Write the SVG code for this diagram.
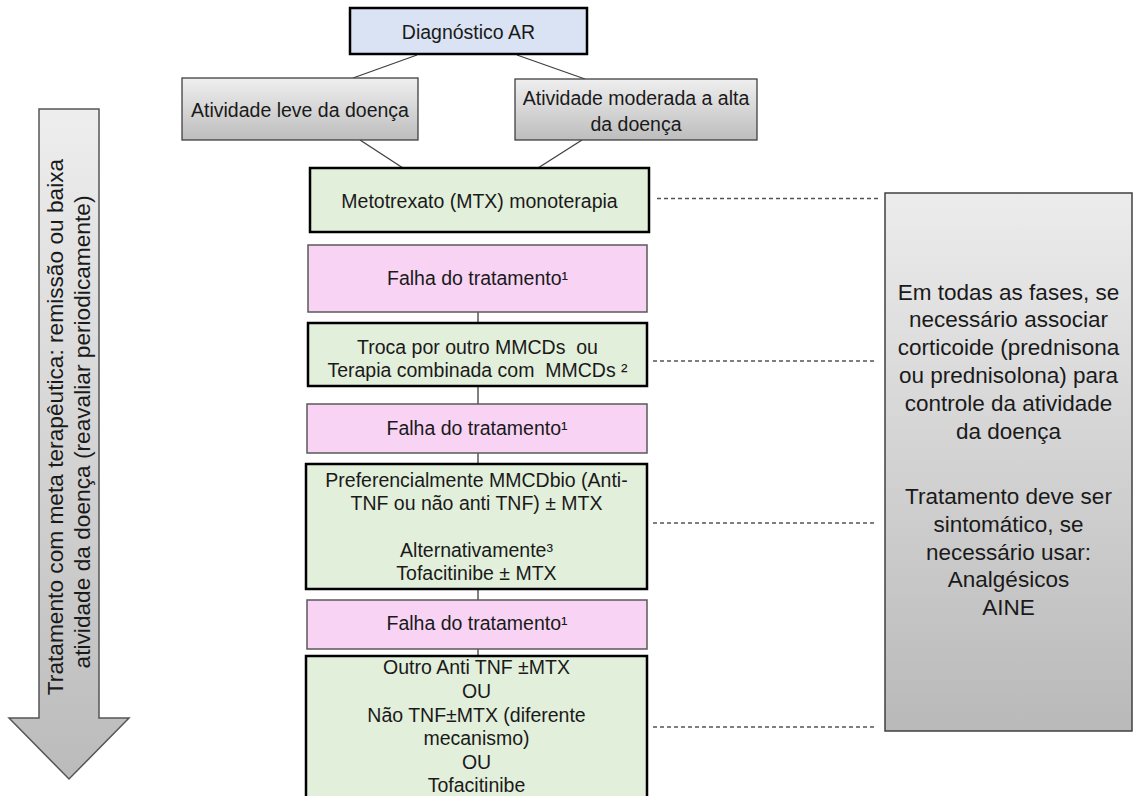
<svg xmlns="http://www.w3.org/2000/svg" width="1133" height="796" viewBox="0 0 1133 796">
<defs>
<linearGradient id="gGray" x1="0" y1="0" x2="0" y2="1"><stop offset="0" stop-color="#efefef"/><stop offset="1" stop-color="#bdbdbd"/></linearGradient>
<linearGradient id="gBig" x1="0" y1="0" x2="0" y2="1"><stop offset="0" stop-color="#ececec"/><stop offset="1" stop-color="#b9b9b9"/></linearGradient>
<linearGradient id="gArrow" gradientUnits="userSpaceOnUse" x1="0" y1="109" x2="0" y2="779"><stop offset="0" stop-color="#eeeeee"/><stop offset="1" stop-color="#bbbbbb"/></linearGradient>
<style>
text{font-family:"Liberation Sans",Arial,sans-serif;fill:#1a1a1a;text-anchor:middle}
.f{font-size:19.5px}
.b{font-size:22.5px}
.a{font-size:22.7px}
.pre{white-space:pre}
.green{fill:#e2efda;stroke:#000;stroke-width:2.5}
.pink{fill:#f8d3f4;stroke:#595959;stroke-width:1.5}
.blue{fill:#dae3f3;stroke:#000;stroke-width:2.5}
.gray{fill:url(#gGray);stroke:#404040;stroke-width:1.3}
.ln{stroke:#404040;stroke-width:1.3;fill:none}
.vl{stroke:#808080;stroke-width:2;fill:none}
.dash{stroke:#555;stroke-width:1.3;stroke-dasharray:4 3;fill:none}
</style>
</defs>
<rect width="1133" height="796" fill="#fff"/>
<g id="connectors">
<line class="ln" x1="417" y1="55" x2="353" y2="78"/>
<line class="ln" x1="517" y1="55" x2="585" y2="79"/>
<line class="ln" x1="360" y1="140" x2="403" y2="168"/>
<line class="ln" x1="582" y1="140" x2="538" y2="168"/>
<line class="vl" x1="478" y1="312" x2="478" y2="323"/>
<line class="vl" x1="478" y1="386" x2="478" y2="404"/>
<line class="vl" x1="478" y1="453" x2="478" y2="464"/>
<line class="vl" x1="478" y1="589" x2="478" y2="600"/>
<line class="vl" x1="478" y1="649" x2="478" y2="656"/>
<line class="dash" x1="657" y1="198.5" x2="879" y2="198.5"/>
<line class="dash" x1="653" y1="361" x2="876" y2="361"/>
<line class="dash" x1="653" y1="523" x2="876" y2="523"/>
<line class="dash" x1="653" y1="727" x2="876" y2="727"/>
</g>
<g id="arrow">
<path d="M39,109 H99 V718 H129 L69,779 L9,718 H39 Z" fill="url(#gArrow)" stroke="#555" stroke-width="1.5"/>
<text class="a" transform="translate(63,427) rotate(-90)">Tratamento com meta terapêutica: remissão ou baixa</text>
<text class="a" transform="translate(90,432) rotate(-90)">atividade da doença (reavaliar periodicamente)</text>
</g>
<g id="diagnostico">
<rect class="blue" x="350" y="8" width="237" height="46"/>
<text class="f" x="468.5" y="38.5">Diagnóstico AR</text>
</g>
<g id="leve">
<rect class="gray" x="182" y="78" width="236" height="62"/>
<text class="f" x="300" y="116.5">Atividade leve da doença</text>
</g>
<g id="moderada">
<rect class="gray" x="515" y="79" width="242" height="61"/>
<text class="f" x="636" y="105">Atividade moderada a alta</text>
<text class="f" x="636" y="131">da doença</text>
</g>
<g id="mtx">
<rect class="green" x="310" y="168" width="339" height="64"/>
<text class="f" x="479.5" y="207.5">Metotrexato (MTX) monoterapia</text>
</g>
<g id="falha1">
<rect class="pink" x="308" y="245" width="339" height="67"/>
<text class="f" x="477.5" y="285">Falha do tratamento¹</text>
</g>
<g id="troca">
<rect class="green" x="308" y="323" width="339" height="63"/>
<text class="f pre" x="477.5" y="354">Troca por outro MMCDs  ou</text>
<text class="f pre" x="477.5" y="377">Terapia combinada com  MMCDs ²</text>
</g>
<g id="falha2">
<rect class="pink" x="307" y="404" width="340" height="49"/>
<text class="f" x="477" y="435">Falha do tratamento¹</text>
</g>
<g id="preferencialmente">
<rect class="green" x="306" y="464" width="341" height="125"/>
<text class="f" x="476.5" y="487">Preferencialmente MMCDbio (Anti-</text>
<text class="f" x="476.5" y="510">TNF ou não anti TNF) ± MTX</text>
<text class="f" x="476.5" y="557">Alternativamente³</text>
<text class="f" x="476.5" y="580">Tofacitinibe ± MTX</text>
</g>
<g id="falha3">
<rect class="pink" x="307" y="600" width="340" height="49"/>
<text class="f" x="477" y="630">Falha do tratamento¹</text>
</g>
<g id="outro">
<rect class="green" x="306" y="656" width="341" height="150"/>
<text class="f" x="476.5" y="674">Outro Anti TNF ±MTX</text>
<text class="f" x="476.5" y="698">OU</text>
<text class="f" x="476.5" y="722">Não TNF±MTX (diferente</text>
<text class="f" x="476.5" y="745">mecanismo)</text>
<text class="f" x="476.5" y="769">OU</text>
<text class="f" x="476.5" y="792">Tofacitinibe</text>
</g>
<g id="nota">
<rect x="885" y="193" width="247" height="538" fill="url(#gBig)" stroke="#404040" stroke-width="1.5"/>
<text class="b" x="1008.5" y="299.5">Em todas as fases, se</text>
<text class="b" x="1008.5" y="327.3">necessário associar</text>
<text class="b" x="1008.5" y="355.1">corticoide (prednisona</text>
<text class="b" x="1008.5" y="382.9">ou prednisolona) para</text>
<text class="b" x="1008.5" y="410.7">controle da atividade</text>
<text class="b" x="1008.5" y="438.5">da doença</text>
<text class="b" x="1008.5" y="504">Tratamento deve ser</text>
<text class="b" x="1008.5" y="531.8">sintomático, se</text>
<text class="b" x="1008.5" y="559.6">necessário usar:</text>
<text class="b" x="1008.5" y="587.4">Analgésicos</text>
<text class="b" x="1008.5" y="615.2">AINE</text>
</g>
</svg>
